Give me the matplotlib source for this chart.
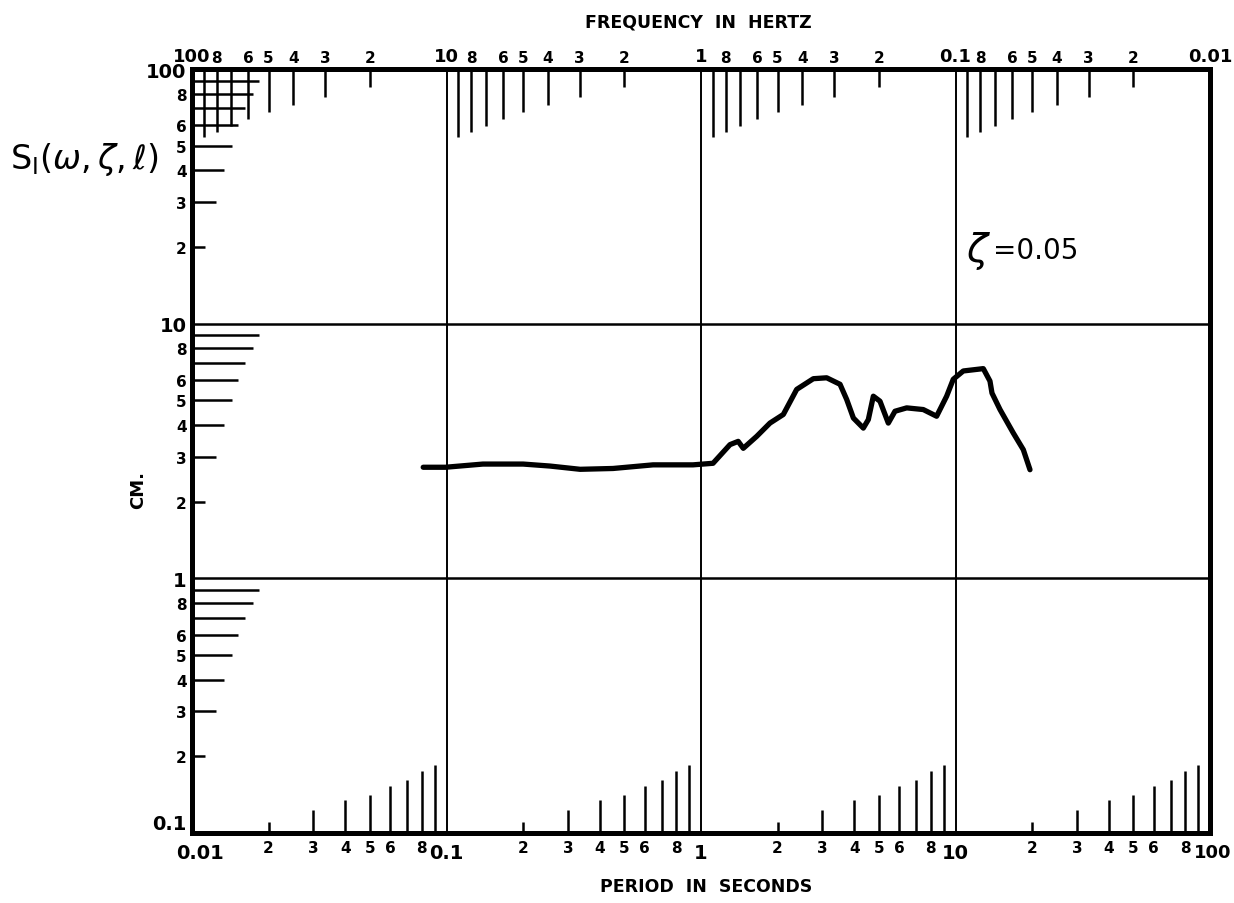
import matplotlib
matplotlib.use("Agg")
import matplotlib.pyplot as plt
from matplotlib.ticker import NullLocator

# ---------------- data ----------------
period_s = [0.081, 0.099, 0.139, 0.200, 0.255, 0.335, 0.451, 0.648, 0.930, 1.115,
            1.30, 1.40, 1.466, 1.655, 1.866, 2.106, 2.377, 2.763, 3.118, 3.518,
            3.736, 3.97, 4.343, 4.544, 4.755, 5.05, 5.445, 5.784, 6.43, 7.47,
            8.43, 9.23, 9.80, 10.73, 12.86, 13.66, 13.91, 14.96, 16.87, 18.47, 19.62]
sa_cm = [2.73, 2.73, 2.81, 2.81, 2.76, 2.68, 2.70, 2.79, 2.79, 2.83,
         3.35, 3.45, 3.24, 3.61, 4.07, 4.40, 5.52, 6.08, 6.13, 5.78,
         5.04, 4.26, 3.89, 4.20, 5.19, 4.96, 4.07, 4.53, 4.67, 4.60,
         4.33, 5.19, 6.05, 6.52, 6.66, 5.95, 5.34, 4.60, 3.72, 3.20, 2.67]

# bottom axis (period) labels
period_ticks = [0.01, 0.02, 0.03, 0.04, 0.05, 0.06, 0.08,
                0.1, 0.2, 0.3, 0.4, 0.5, 0.6, 0.8,
                1, 2, 3, 4, 5, 6, 8,
                10, 20, 30, 40, 50, 60, 80, 100]
period_labels = ["0.01", "2", "3", "4", "5", "6", "8",
                 "0.1", "2", "3", "4", "5", "6", "8",
                 "1", "2", "3", "4", "5", "6", "8",
                 "10", "2", "3", "4", "5", "6", "8", "100"]
# top axis (frequency) labels
freq_ticks = [100, 80, 60, 50, 40, 30, 20,
              10, 8, 6, 5, 4, 3, 2,
              1, 0.8, 0.6, 0.5, 0.4, 0.3, 0.2,
              0.1, 0.08, 0.06, 0.05, 0.04, 0.03, 0.02, 0.01]
freq_labels = ["100", "8", "6", "5", "4", "3", "2",
               "10", "8", "6", "5", "4", "3", "2",
               "1", "8", "6", "5", "4", "3", "2",
               "0.1", "8", "6", "5", "4", "3", "2", "0.01"]
# left axis (cm) labels
cm_ticks = [0.1, 0.2, 0.3, 0.4, 0.5, 0.6, 0.8,
            1, 2, 3, 4, 5, 6, 8,
            10, 20, 30, 40, 50, 60, 80, 100]
cm_labels = ["0.1", "2", "3", "4", "5", "6", "8",
             "1", "2", "3", "4", "5", "6", "8",
             "10", "2", "3", "4", "5", "6", "8", "100"]
decade_labels = ["0.01", "0.1", "1", "10", "100"]

# scale-mark multipliers within each decade
mult = [2, 3, 4, 5, 6, 7, 8, 9]
period_decades = [0.01, 0.1, 1, 10]
freq_decades = [10, 1, 0.1, 0.01]
cm_decades = [0.1, 1, 10]
grid_periods = [0.1, 1, 10]
grid_cm = [1, 10]

# mark lengths in pixels
bottom_len = [11, 23, 33, 38, 47, 53, 62, 68]
top_len = [18, 28, 36, 43, 50, 57, 63, 68]
left_len = [13, 24, 32, 40, 46, 53, 61, 67]

# ---------------- figure ----------------
W, H = 1234, 904
fig = plt.figure(figsize=(W / 100, H / 100), dpi=100)
fig.patch.set_facecolor("white")
ax_rect = [192 / W, 70 / H, 1018 / W, 764 / H]
ax = fig.add_axes(ax_rect)
ax.set_xscale("log")
ax.set_yscale("log")
ax.set_xlim(0.01, 100)
ax.set_ylim(0.1, 100)
ax_w_px = ax_rect[2] * W
ax_h_px = ax_rect[3] * H

for s in ax.spines.values():
    s.set_linewidth(3.6)
    s.set_color("black")

# decade grid lines
for p in grid_periods:
    ax.axvline(p, color="black", lw=1.4, zorder=2)
for c in grid_cm:
    ax.axhline(c, color="black", lw=1.8, zorder=2)

xt = ax.get_xaxis_transform()
yt = ax.get_yaxis_transform()
# bottom period marks
for d in period_decades:
    for m, L in zip(mult, bottom_len):
        ax.plot([m * d, m * d], [0, L / ax_h_px], color="black", lw=1.8,
                transform=xt, solid_capstyle="butt", zorder=3)
# top frequency marks
for d in freq_decades:
    for m, L in zip(mult, top_len):
        p = 1.0 / (m * d)
        ax.plot([p, p], [1, 1 - L / ax_h_px], color="black", lw=1.8,
                transform=xt, solid_capstyle="butt", zorder=3)
# left cm marks
for d in cm_decades:
    for m, L in zip(mult, left_len):
        ax.plot([0, L / ax_w_px], [m * d, m * d], color="black", lw=1.8,
                transform=yt, solid_capstyle="butt", zorder=3)

# curve
ax.plot(period_s, sa_cm, color="black", lw=3.8, solid_capstyle="round",
        solid_joinstyle="round", zorder=4)

# bottom labels: digits as tick labels, decade values placed a little lower
ax.set_xticks(period_ticks,
              ["" if lab in decade_labels else lab for lab in period_labels])
ax.xaxis.set_minor_locator(NullLocator())
ax.tick_params(axis="x", length=0, pad=5)
for t in ax.get_xticklabels():
    t.set_fontweight("bold")
    t.set_fontsize(11)
for p, lab in zip(period_ticks, period_labels):
    if lab in decade_labels:
        dx = {"0.01": 6, "100": 2}.get(lab, 0)
        fs = 13 if lab == "100" else 14
        ax.annotate(lab, xy=(p, 0), xycoords=xt, xytext=(dx, -7),
                    textcoords="offset points", ha="center", va="top",
                    fontsize=fs, fontweight="bold", annotation_clip=False)

# left labels
ax.set_yticks(cm_ticks, cm_labels)
ax.yaxis.set_minor_locator(NullLocator())
ax.tick_params(axis="y", length=0, pad=4)
for t in ax.get_yticklabels():
    t.set_fontweight("bold")
    t.set_fontsize(14 if t.get_text() in decade_labels else 11)
    if t.get_text() == "0.1":
        t.set_verticalalignment("bottom")

# top frequency axis
ax2 = ax.twiny()
ax2.set_xscale("log")
ax2.set_xlim(100, 0.01)
ax2.set_xticks(freq_ticks, freq_labels)
ax2.xaxis.set_minor_locator(NullLocator())
ax2.tick_params(axis="x", length=0, pad=3)
for s in ax2.spines.values():
    s.set_visible(False)
for t in ax2.get_xticklabels():
    t.set_fontweight("bold")
    t.set_fontsize(13 if t.get_text() in decade_labels else 11)

# titles
fig.text(0.566, 1 - 22 / H, "FREQUENCY  IN  HERTZ", ha="center", va="center",
         fontsize=12.5, fontweight="bold")
fig.text(0.572, 1 - 887 / H, "PERIOD  IN  SECONDS", ha="center", va="center",
         fontsize=12.5, fontweight="bold")
fig.text(138 / W, 1 - 490 / H, "CM.", rotation=90, ha="center", va="center",
         fontsize=13, fontweight="bold")
fig.text(10 / W, 1 - 160 / H, r"$\mathsf{S_I}(\omega,\zeta,\ell)$", ha="left",
         va="center", fontsize=24)
ax.text(11.0, 19.4, r"$\zeta$", fontsize=28, ha="left", va="center")
ax.text(14.0, 19.4, "=0.05", fontsize=20, ha="left", va="center")

fig.savefig("out.png", dpi=100, facecolor="white")
